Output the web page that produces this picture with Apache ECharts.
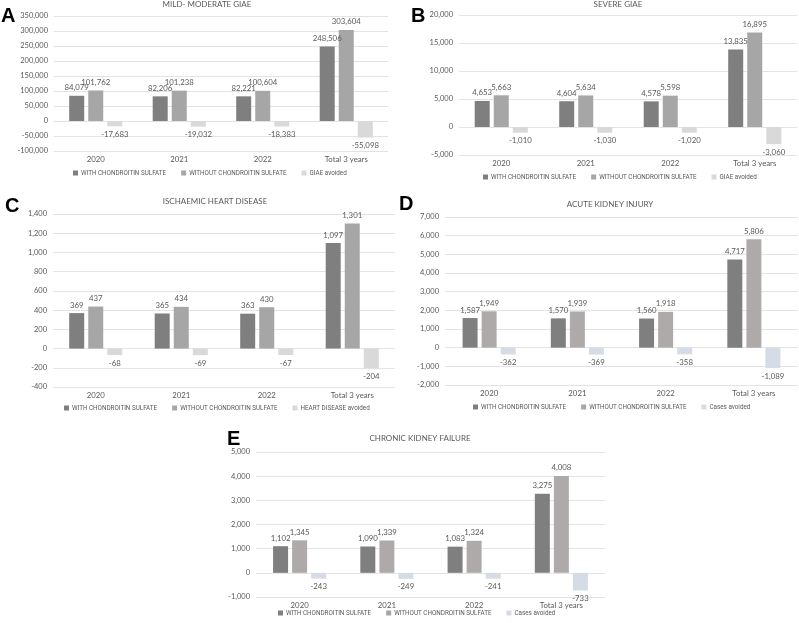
<!DOCTYPE html>
<html>
<head>
<meta charset="utf-8">
<script src="https://cdn.jsdelivr.net/npm/echarts@6/dist/echarts.min.js"></script>
<style>html,body{margin:0;padding:0;background:#fff}#c{width:799px;height:623px}</style>
</head>
<body>
<div id="c"></div>
<script>
const categories = ['2020', '2021', '2022', 'Total 3 years'];
const seriesNames = ['WITH CHONDROITIN SULFATE', 'WITHOUT CHONDROITIN SULFATE'];

const A_with = [84079, 82206, 82221, 248506];
const A_without = [101762, 101238, 100604, 303604];
const A_avoided = [-17683, -19032, -18383, -55098];

const B_with = [4653, 4604, 4578, 13835];
const B_without = [5663, 5634, 5598, 16895];
const B_avoided = [-1010, -1030, -1020, -3060];

const C_with = [369, 365, 363, 1097];
const C_without = [437, 434, 430, 1301];
const C_avoided = [-68, -69, -67, -204];

const D_with = [1587, 1570, 1560, 4717];
const D_without = [1949, 1939, 1918, 5806];
const D_avoided = [-362, -369, -358, -1089];

const E_with = [1102, 1090, 1083, 3275];
const E_without = [1345, 1339, 1324, 4008];
const E_avoided = [-243, -249, -241, -733];

const panels = [
  {letter:'A', title:'MILD- MODERATE GIAE', avoidedName:'GIAE avoided', data:[A_with,A_without,A_avoided],
   min:-100000, max:350000, interval:50000,
   grid:{left:54, top:16, width:334, height:135}, titleXY:[207,0], letterXY:[1,6], legendY:170, legendX:210,
   colors:['#7f7f7f','#a6a6a6','#d9d9d9']},
  {letter:'B', title:'SEVERE GIAE', avoidedName:'GIAE avoided', data:[B_with,B_without,B_avoided],
   min:-5000, max:20000, interval:5000,
   grid:{left:459, top:15, width:338, height:140}, titleXY:[618,0], letterXY:[411,6], legendY:174, legendX:620,
   colors:['#7f7f7f','#a6a6a6','#d9d9d9']},
  {letter:'C', title:'ISCHAEMIC HEART DISEASE', avoidedName:'HEART DISEASE avoided', data:[C_with,C_without,C_avoided],
   min:-400, max:1400, interval:200,
   grid:{left:53, top:214, width:342, height:173}, titleXY:[215,197], letterXY:[5,196], legendY:405, legendX:217,
   colors:['#7f7f7f','#a6a6a6','#d9d9d9']},
  {letter:'D', title:'ACUTE KIDNEY INJURY', avoidedName:'Cases avoided', data:[D_with,D_without,D_avoided],
   min:-2000, max:7000, interval:1000,
   grid:{left:445, top:217, width:353, height:168}, titleXY:[610,200], letterXY:[399,194], legendY:404, legendX:612,
   colors:['#7f7f7f','#aeaaaa','#d6dce5']},
  {letter:'E', title:'CHRONIC KIDNEY FAILURE', avoidedName:'Cases avoided', data:[E_with,E_without,E_avoided],
   min:-1000, max:5000, interval:1000,
   grid:{left:256, top:452, width:349, height:145}, titleXY:[420,434], letterXY:[227,429], legendY:610, legendX:417,
   colors:['#7f7f7f','#aeaaaa','#d6dce5']}
];

const FONT = 'Lato';
const LFONT = 'Roboto';
const LSIZE = 6.3;
const TXT = '#595959';
const fmt = v => v.toLocaleString('en-US');
const ITEM_W = 5, ITEM_GAP = 15;

const option = {
  animation:false,
  backgroundColor:'#fff',
  textStyle:{fontFamily:FONT},
  grid:[], xAxis:[], yAxis:[], series:[], legend:[], title:[], graphic:[]
};

panels.forEach((p, i) => {
  option.grid.push(Object.assign({containLabel:false}, p.grid));
  option.xAxis.push({
    type:'category', gridIndex:i, data:categories,
    axisLine:{show:false}, axisTick:{show:false},
    axisLabel:{color:TXT, fontSize:7.8, fontFamily:FONT, margin:4}
  });
  option.yAxis.push({
    type:'value', gridIndex:i, min:p.min, max:p.max, interval:p.interval,
    axisLine:{show:false}, axisTick:{show:false},
    splitLine:{lineStyle:{color:'#e3e3e3', width:1}},
    axisLabel:{color:TXT, fontSize:7.5, fontFamily:FONT, margin:6, formatter:v => fmt(v)}
  });
  const names = [seriesNames[0], seriesNames[1], p.avoidedName];
  p.data.forEach((arr, k) => {
    option.series.push({
      name:names[k], type:'bar', xAxisIndex:i, yAxisIndex:i, data:arr,
      barWidth:15, barGap:'27%',
      itemStyle:{color:p.colors[k]},
      label:{show:true, position:k===2?'bottom':'top', distance:4, color:TXT, fontSize:7.8, fontFamily:FONT,
             formatter:o => fmt(o.value)}
    });
  });
  option.legend.push({
    data:names, left:p.legendX - 120, top:p.legendY, width:500, padding:0,
    itemWidth:ITEM_W, itemHeight:ITEM_W, itemGap:ITEM_GAP,
    icon:'rect', textStyle:{color:TXT, fontSize:LSIZE, fontFamily:LFONT, padding:[0,0,0,-2]},
    selectedMode:false
  });
  option.title.push({
    text:p.title, left:p.titleXY[0], top:p.titleXY[1], textAlign:'center', padding:0,
    textStyle:{color:TXT, fontSize:8, fontWeight:'normal', fontFamily:FONT}
  });
  option.graphic.push({
    type:'text', left:p.letterXY[0], top:p.letterXY[1],
    style:{text:p.letter, font:'bold 20px "Liberation Sans", Arial', fill:'#000'}
  });
});

const chart = echarts.init(document.getElementById('c'), null, {renderer:'canvas'});
chart.setOption(option);

// centre each legend on its panel position, using its rendered width
try {
  const model = chart.getModel();
  const newLegends = panels.map((p, i) => {
    const lm = model.getComponent('legend', i);
    const view = chart.getViewOfComponentModel(lm);
    const r = view.group.getBoundingRect();
    return {left: Math.round(p.legendX - r.width / 2)};
  });
  chart.setOption({legend:newLegends});
} catch (e) {}
</script>
</body>
</html>
